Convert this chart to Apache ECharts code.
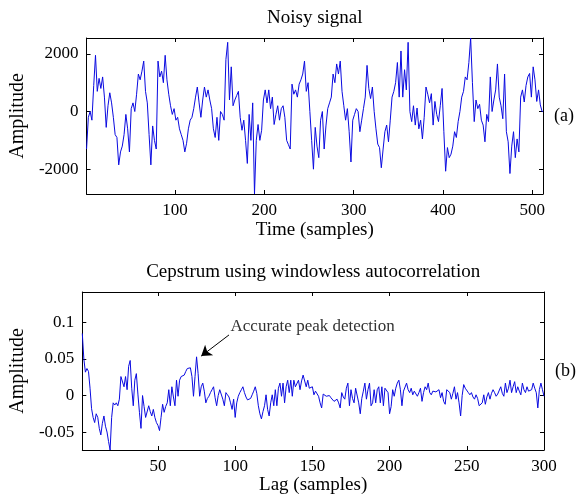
<!DOCTYPE html>
<html><head><meta charset="utf-8">
<script src="https://cdn.jsdelivr.net/npm/echarts@6/dist/echarts.min.js"></script>
<style>html,body{margin:0;padding:0;background:#fff}#c{width:579px;height:497px}</style>
</head><body><div id="c"></div>
<script>
// ---------- data ----------
const topTitle = 'Noisy signal';
const topXName = 'Time (samples)';
const bottomTitle = 'Cepstrum using windowless autocorrelation';
const bottomXName = 'Lag (samples)';
const yName = 'Amplitude';
const panelTags = ['(a)', '(b)'];
const topTicksX = [100, 200, 300, 400, 500];
const topTicksY = [-2000, 0, 2000];
const bottomTicksX = [50, 100, 150, 200, 250, 300];
const bottomTicksY = [-0.05, 0, 0.05, 0.1];
const topRange = { xmin: 1, xmax: 512, ymin: -2860, ymax: 2550 };
const bottomRange = { xmin: 1, xmax: 300, ymin: -0.0746, ymax: 0.1418 };

// noisy signal, read at samples 1,3,5,...,511 and 512
const signalSamples = [
  1,3,5,7,9,11,13,15,17,19, 21,23,25,27,29,31,33,35,37,39,
  41,43,45,47,49,51,53,55,57,59, 61,63,65,67,69,71,73,75,77,79,
  81,83,85,87,89,91,93,95,97,99, 101,103,105,107,109,111,113,115,117,119,
  121,123,125,127,129,131,133,135,137,139, 141,143,145,147,149,151,153,155,157,159,
  161,163,165,167,169,171,173,175,177,179, 181,183,185,187,189,191,193,195,197,199,
  201,203,205,207,209,211,213,215,217,219, 221,223,225,227,229,231,233,235,237,239,
  241,243,245,247,249,251,253,255,257,259, 261,263,265,267,269,271,273,275,277,279,
  281,283,285,287,289,291,293,295,297,299, 301,303,305,307,309,311,313,315,317,319,
  321,323,325,327,329,331,333,335,337,339, 341,343,345,347,349,351,353,355,357,359,
  361,363,365,367,369,371,373,375,377,379, 381,383,385,387,389,391,393,395,397,399,
  401,403,405,407,409,411,413,415,417,419, 421,423,425,427,429,431,433,435,437,439,
  441,443,445,447,449,451,453,455,457,459, 461,463,465,467,469,471,473,475,477,479,
  481,483,485,487,489,491,493,495,497,499, 501,503,505,507,509,511,512
];
const signalValues = [
  -1300,-200,0,-300,900,1950,700,1150,800,1200,
  500,-550,200,650,300,-200,-800,-900,-1850,-1400,
  -1200,-800,-100,-600,-1400,100,300,0,600,1300,
  1100,1400,1750,700,300,-800,-1850,-500,-1000,-1300,
  1750,1200,1400,1000,1950,1100,600,200,-100,100,
  -300,-200,-600,-800,-1000,-1400,-1100,-600,-300,-200,
  100,500,850,300,-200,400,850,500,750,400,
  100,-600,-900,-200,-1000,0,-100,-300,1800,2400,
  400,1550,200,400,550,700,-200,-650,-300,-1000,
  -1800,-100,-1000,300,-2860,-1000,-450,-1000,-650,400,
  750,300,750,100,500,-450,-100,200,-300,100,
  200,-200,-1000,-1150,-1300,950,600,750,500,950,
  1100,1300,1750,700,1000,0,-1000,-2000,-550,-1200,
  -1600,-300,0,-1300,-500,100,300,500,1300,1000,
  1650,1300,1750,700,200,-300,100,-700,-1750,-300,
  -100,100,0,-700,-300,100,500,1600,800,450,
  850,0,-600,-1130,-1250,-1950,-1300,-700,-470,-1050,
  -300,500,700,1000,1700,500,2100,500,1450,750,
  2400,0,-350,200,-470,120,-600,-300,-950,-200,
  850,600,300,620,-470,350,-100,-350,200,800,
  -700,-2070,-1250,-1600,-1480,-1200,-700,-900,-350,0,
  500,700,1200,1100,1700,2550,1000,-350,400,100,
  250,-300,-470,-1050,-100,-350,1200,0,400,750,
  1650,500,200,-250,1300,-700,-1050,-2150,-1200,-700,
  -1600,-950,-1400,500,750,330,900,1200,1320,500,
  1550,1100,350,750,230,0,0
];

// cepstrum, lags 1..300
const cepstrumValues = [
  0.085,0.050,0.032,0.037,0.033,0.010,-0.018,-0.030,-0.037,-0.025,
  -0.030,-0.045,-0.054,-0.038,-0.028,-0.042,-0.050,-0.063,-0.0746,-0.030,
  -0.010,-0.013,-0.010,-0.014,-0.005,0.026,0.028,0.012,0.026,0.008,
  0.040,0.048,0.010,-0.014,0.021,0.030,0.002,-0.023,-0.045,0.000,
  -0.015,-0.030,-0.032,-0.014,-0.022,-0.028,-0.019,-0.030,-0.037,-0.041,
  -0.048,-0.030,-0.012,-0.023,-0.015,-0.010,0.008,-0.014,0.012,-0.002,
  -0.014,0.021,-0.001,0.021,0.026,0.027,0.028,0.033,0.037,0.039,
  0.038,0.026,-0.001,0.026,0.053,0.030,-0.001,0.012,0.017,0.006,
  -0.010,-0.004,-0.001,0.004,0.008,0.012,-0.003,-0.014,0.000,0.008,
  0.010,-0.005,-0.014,0.004,0.001,-0.002,-0.010,-0.019,-0.005,-0.030,
  -0.010,-0.001,0.004,0.008,0.012,0.004,-0.002,-0.006,-0.005,-0.004,
  0.001,0.006,0.012,0.003,-0.014,-0.025,-0.032,-0.022,-0.014,0.001,
  -0.019,-0.028,-0.010,0.001,-0.014,0.008,-0.014,0.010,0.017,-0.001,
  0.017,-0.010,0.012,0.021,0.004,0.021,-0.001,0.021,0.012,0.012,
  0.021,0.008,0.020,0.028,0.030,0.012,0.021,0.010,0.008,0.012,
  0.001,0.006,0.008,-0.001,-0.010,-0.017,0.002,0.004,-0.001,-0.001,
  0.000,-0.003,-0.005,-0.008,-0.010,-0.005,-0.010,-0.017,0.004,-0.002,
  -0.005,0.010,0.017,-0.014,0.008,-0.004,-0.010,0.010,0.008,-0.010,
  -0.025,-0.004,0.006,0.017,-0.005,0.008,0.017,-0.014,-0.010,0.008,
  -0.010,0.008,0.012,-0.010,0.012,-0.014,0.010,0.012,0.004,-0.025,
  -0.015,0.008,-0.001,0.010,0.017,0.021,0.008,-0.014,0.006,0.008,
  0.017,0.008,0.004,0.010,0.001,0.006,0.008,-0.001,0.004,0.010,
  -0.008,0.004,0.012,0.008,0.017,0.004,0.001,0.006,0.004,0.005,
  0.006,0.008,-0.003,0.004,-0.008,-0.012,0.008,0.006,0.004,-0.005,
  0.003,0.012,-0.005,0.004,-0.010,-0.028,0.000,0.015,0.010,0.008,
  0.004,0.001,0.004,-0.002,-0.005,0.001,-0.004,-0.014,-0.012,-0.010,
  0.001,-0.012,-0.002,0.004,-0.005,0.003,0.008,0.004,-0.001,0.002,
  0.004,0.012,0.003,-0.001,0.017,0.004,0.010,0.021,0.004,0.012,
  0.019,0.004,0.012,0.006,0.001,0.017,0.008,0.004,0.012,0.006,
  0.007,0.008,0.017,0.010,0.004,-0.017,0.008,0.017,0.008,-0.001
];
const cepstrumLags = cepstrumValues.map((v, i) => i + 1);

const annotationText = 'Accurate peak detection';
const arrowTail = [96, 0.083];
const arrowTip = [78, 0.054];
const annotationAnchor = [97, 0.095];

// ---------- chart ----------
const FONT = '"Liberation Serif", "DejaVu Serif", serif';
const lineColor = '#0a0ae0';
const axisLine = { show: true, onZero: false, lineStyle: { color: '#000', width: 1 } };
const tickIn = (vals) => ({ show: true, inside: true, length: 4, customValues: vals, lineStyle: { color: '#000', width: 1 } });
const tickLabel = (vals, show) => ({ show: show, customValues: vals, color: '#000', fontFamily: FONT, fontSize: 17, margin: 8,
  formatter: (v) => String(v) });
const nameStyle = (size) => ({ color: '#000', fontFamily: FONT, fontSize: size });

const chart = echarts.init(document.getElementById('c'), null, { renderer: 'canvas' });
chart.setOption({
  animation: false,
  backgroundColor: '#fff',
  grid: [
    { left: 78, top: 38, width: 465, height: 156 },
    { left: 78, top: 292, width: 466, height: 158 }
  ],
  xAxis: [
    { gridIndex: 0, type: 'value', position: 'bottom', min: topRange.xmin, max: topRange.xmax,
      axisLine, axisTick: tickIn(topTicksX), axisLabel: tickLabel(topTicksX, true), splitLine: { show: false },
      name: topXName, nameLocation: 'middle', nameGap: 27, nameTextStyle: nameStyle(19) },
    { gridIndex: 0, type: 'value', position: 'top', min: topRange.xmin, max: topRange.xmax,
      axisLine, axisTick: tickIn(topTicksX), axisLabel: { show: false }, splitLine: { show: false },
      name: topTitle, nameLocation: 'middle', nameGap: 10, nameTextStyle: nameStyle(19) },
    { gridIndex: 1, type: 'value', position: 'bottom', min: bottomRange.xmin, max: bottomRange.xmax,
      axisLine, axisTick: tickIn(bottomTicksX), axisLabel: tickLabel(bottomTicksX, true), splitLine: { show: false },
      name: bottomXName, nameLocation: 'middle', nameGap: 25, nameTextStyle: nameStyle(19) },
    { gridIndex: 1, type: 'value', position: 'top', min: bottomRange.xmin, max: bottomRange.xmax,
      axisLine, axisTick: tickIn(bottomTicksX), axisLabel: { show: false }, splitLine: { show: false },
      name: bottomTitle, nameLocation: 'middle', nameGap: 10, nameTextStyle: nameStyle(19) }
  ],
  yAxis: [
    { gridIndex: 0, type: 'value', position: 'left', min: topRange.ymin, max: topRange.ymax,
      axisLine, axisTick: tickIn(topTicksY), axisLabel: tickLabel(topTicksY, true), splitLine: { show: false },
      name: yName, nameLocation: 'middle', nameGap: 42, nameTextStyle: nameStyle(20) },
    { gridIndex: 0, type: 'value', position: 'right', min: topRange.ymin, max: topRange.ymax,
      axisLine, axisTick: tickIn(topTicksY), axisLabel: { show: false }, splitLine: { show: false },
      name: panelTags[0], nameLocation: 'middle', nameRotate: 0, nameGap: 11, nameTextStyle: nameStyle(18) },
    { gridIndex: 1, type: 'value', position: 'left', min: bottomRange.ymin, max: bottomRange.ymax,
      axisLine, axisTick: tickIn(bottomTicksY), axisLabel: tickLabel(bottomTicksY, true), splitLine: { show: false },
      name: yName, nameLocation: 'middle', nameGap: 42, nameTextStyle: nameStyle(20) },
    { gridIndex: 1, type: 'value', position: 'right', min: bottomRange.ymin, max: bottomRange.ymax,
      axisLine, axisTick: tickIn(bottomTicksY), axisLabel: { show: false }, splitLine: { show: false },
      name: panelTags[1], nameLocation: 'middle', nameRotate: 0, nameGap: 11, nameTextStyle: nameStyle(18) }
  ],
  series: [
    { type: 'line', xAxisIndex: 0, yAxisIndex: 0, symbol: 'none', clip: true,
      lineStyle: { color: lineColor, width: 1 },
      data: signalSamples.map((s, i) => [s, signalValues[i]]) },
    { type: 'line', xAxisIndex: 2, yAxisIndex: 2, symbol: 'none', clip: true,
      lineStyle: { color: lineColor, width: 1 },
      data: cepstrumLags.map((l, i) => [l, cepstrumValues[i]]),
      markLine: { silent: true, symbol: ['none', 'arrow'], symbolSize: 10,
        lineStyle: { color: '#000', width: 1, type: 'solid' }, label: { show: false },
        data: [[{ coord: arrowTail }, { coord: arrowTip }]] },
      markPoint: { silent: true,
        data: [{ coord: annotationAnchor, symbol: 'circle', symbolSize: 0,
          label: { show: true, position: 'right', distance: 0, formatter: annotationText,
            color: '#333', fontFamily: FONT, fontSize: 17 } }] } }
  ]
});
</script>
</body></html>
